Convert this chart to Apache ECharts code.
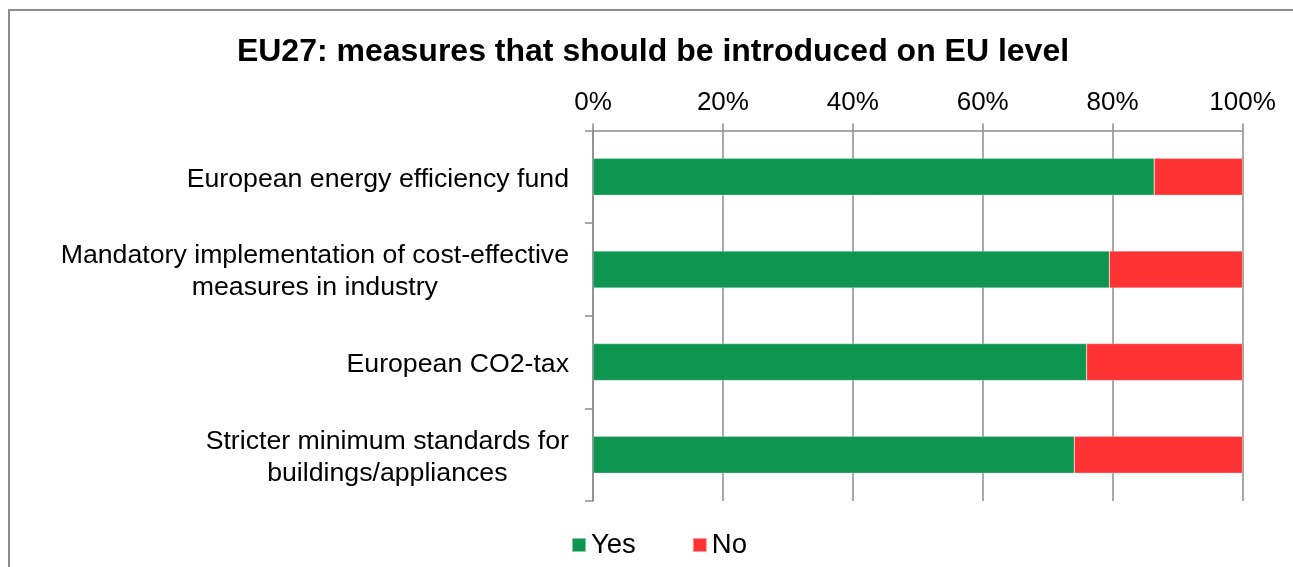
<!DOCTYPE html>
<html>
<head>
<meta charset="utf-8">
<script src="https://cdn.jsdelivr.net/npm/echarts@6/dist/echarts.min.js"></script>
<style>
html,body{margin:0;padding:0;background:#fff;}
#chart{width:1293px;height:567px;}
</style>
</head>
<body>
<div id="chart"></div>
<script>
const categories = [
  "European energy efficiency fund",
  "Mandatory implementation of cost-effective\nmeasures in industry",
  "European CO2-tax",
  "Stricter minimum standards for\nbuildings/appliances"
];
const yesValues = [86.4, 79.5, 76.0, 74.1];
const noValues = [13.6, 20.5, 24.0, 25.9];
const xTicks = [0, 20, 40, 60, 80, 100];

const FONT = '"Liberation Sans", Arial, sans-serif';
const GRAY = '#8c8c8c';

const chart = echarts.init(document.getElementById('chart'), null, {renderer: 'canvas'});
chart.setOption({
  animation: false,
  backgroundColor: '#fff',
  graphic: [{
    type: 'rect',
    shape: {x: 9, y: 10, width: 1400, height: 700},
    style: {fill: 'none', stroke: GRAY, lineWidth: 2},
    silent: true
  }],
  title: {
    text: 'EU27: measures that should be introduced on EU level',
    left: 648,
    textAlign: 'center',
    top: 31,
    textStyle: {fontFamily: FONT, fontSize: 32, fontWeight: 'bold', color: '#000'}
  },
  legend: {
    left: 566,
    top: 526,
    itemWidth: 14,
    itemHeight: 14,
    itemGap: 56,
    icon: 'rect',
    textStyle: {fontFamily: FONT, fontSize: 27.5, color: '#000'},
    data: ['Yes', 'No']
  },
  grid: {left: 593, right: 50.5, top: 130.5, bottom: 66, containLabel: false},
  xAxis: {
    type: 'value',
    position: 'top',
    min: xTicks[0],
    max: xTicks[xTicks.length - 1],
    interval: 20,
    axisLine: {show: true, lineStyle: {color: GRAY, width: 1.5}},
    axisTick: {show: true, length: 7, lineStyle: {color: GRAY, width: 1.5}},
    axisLabel: {formatter: '{value}%', fontFamily: FONT, fontSize: 26, color: '#000', margin: 15},
    splitLine: {show: true, lineStyle: {color: GRAY, width: 1.5}}
  },
  yAxis: {
    type: 'category',
    inverse: true,
    data: categories,
    axisLine: {show: true, lineStyle: {color: GRAY, width: 1.5}},
    axisTick: {show: true, length: 8, lineStyle: {color: GRAY, width: 1.5}},
    axisLabel: {
      fontFamily: FONT, fontSize: 26.7, color: '#000', margin: 24, lineHeight: 32, align: 'right',
      padding: [5, 0, 0, 0],
      formatter: v => v.split('\n').map(s => '{c|' + s + '}').join('\n'),
      rich: {c: {align: 'center', fontFamily: FONT, fontSize: 26.7, lineHeight: 32, color: '#000'}}
    }
  },
  series: [
    {
      name: 'Yes', type: 'bar', stack: 'total', data: yesValues, barWidth: 37,
      itemStyle: {color: '#0e9650', borderColor: 'rgba(255,255,255,0.5)', borderWidth: 0.5}
    },
    {
      name: 'No', type: 'bar', stack: 'total', data: noValues, barWidth: 37,
      itemStyle: {color: '#ff3333', borderColor: 'rgba(255,255,255,0.5)', borderWidth: 0.5}
    }
  ]
});
</script>
</body>
</html>
